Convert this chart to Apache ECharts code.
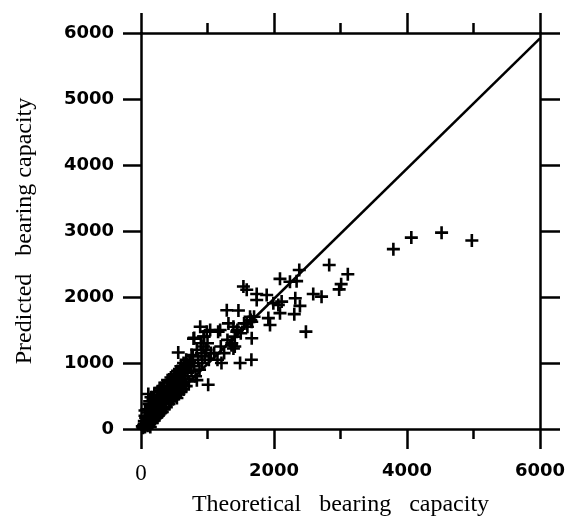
<!DOCTYPE html>
<html>
<head>
<meta charset="utf-8">
<script src="https://cdn.jsdelivr.net/npm/echarts@6/dist/echarts.min.js"></script>
<style>
  html, body { margin: 0; padding: 0; background: #fff; }
  #chart { width: 570px; height: 530px; }
</style>
</head>
<body>
<div id="chart"></div>
<script>
// 理论承载力 vs 预测承载力 (kN)
var xName = 'Theoretical   bearing   capacity';
var yName = 'Predicted   bearing capacity';

// 散点: [理论值, 预测值]
var lowPoints = [
    [40, 60], [60, 30], [80, 100], [100, 50], [90, 150], [120, 120], [130, 80], [150, 200],
    [160, 140], [170, 90], [180, 250], [190, 180], [200, 130], [210, 300], [220, 220], [230, 170],
    [240, 350], [250, 260], [260, 200], [270, 400], [280, 300], [290, 240], [300, 450], [310, 330],
    [320, 260], [60, 200], [110, 530], [150, 480], [200, 520], [50, 120], [70, 170], [30, 20],
    [140, 30], [100, 250], [190, 380], [250, 560], [280, 620], [330, 500], [340, 380], [350, 300],
    [360, 560], [370, 450], [380, 330], [400, 600], [410, 480], [420, 380], [430, 650], [440, 520],
    [450, 420], [460, 700], [470, 560], [480, 450], [500, 620], [510, 500], [520, 680], [530, 580],
    [540, 470], [550, 750], [560, 640], [570, 530], [590, 700], [600, 560], [620, 800], [630, 680],
    [640, 600], [650, 900], [660, 760], [680, 650], [700, 850], [710, 950], [720, 720], [560, 1160],
    [20, 40], [50, 80], [70, 60], [110, 90], [130, 170], [170, 210], [200, 260], [230, 290],
    [260, 330], [290, 370], [320, 420], [350, 470], [380, 520], [410, 560], [440, 600], [470, 640],
    [500, 690], [530, 730], [560, 780], [590, 820], [620, 870], [660, 920], [690, 980], [730, 1030],
    [160, 320], [220, 400], [270, 480], [300, 580], [390, 620], [420, 720], [480, 760], [520, 820],
    [600, 950], [640, 1000], [680, 1050], [760, 1120], [90, 300], [130, 420], [330, 650], [150, 350],
    [60, 280], [120, 380], [180, 450], [240, 500], [300, 620], [350, 650], [400, 740], [450, 780],
    [500, 830], [550, 880], [610, 920], [670, 990]
];
var midPoints = [
    [740, 1000], [760, 880], [780, 1100], [800, 950], [820, 800], [840, 1200], [860, 1050], [880, 900],
    [900, 1300], [910, 1150], [920, 1000], [940, 1250], [950, 1400], [960, 1100], [980, 1200], [1000, 1300],
    [1020, 1050], [1050, 1150], [1010, 670], [840, 740], [800, 1380], [890, 1550], [940, 1400], [1040, 1500],
    [1190, 1500], [1210, 1000], [1490, 1000], [1660, 1050], [1360, 1270], [1410, 1400], [1200, 1250], [1300, 1350],
    [1450, 1500], [1550, 1600], [1650, 1650], [1700, 1700], [1600, 1550], [1500, 1450], [1250, 1150], [1100, 1150],
    [1150, 1050], [790, 1370], [990, 1475], [1160, 1475], [1390, 1220], [1410, 1250]
];
var highPoints = [
    [1540, 2160], [1590, 2110], [1740, 2045], [1890, 2030], [1740, 1955], [2090, 2275], [2240, 2230], [2340, 2240],
    [2380, 2410], [2320, 1980], [2390, 1865], [2305, 1740], [2115, 1930], [2065, 1880], [2090, 1755], [1990, 1905],
    [1915, 1680], [1940, 1575], [1290, 1800], [1465, 1795], [1640, 1700], [1665, 1625], [1590, 1600], [1390, 1550],
    [1315, 1600], [1440, 1475], [1665, 1375], [1365, 1300], [2480, 1475], [2590, 2045], [2715, 2005], [2830, 2485],
    [3110, 2345], [3010, 2195], [2980, 2115], [3795, 2725], [4065, 2900], [4520, 2975], [4975, 2855]
];
var scatterData = lowPoints.concat(midPoints, highPoints);

// 1:1 参考线
var refLine = [[0, 0], [6000, 5920]];

var xTicks = [0, 2000, 4000, 6000];

var plusSymbol = 'path://M4,0 H6 V4 H10 V6 H6 V10 H4 V6 H0 V4 H4 Z';

var myChart = echarts.init(document.getElementById('chart'));

var axisLine = { show: true, onZero: false, lineStyle: { color: '#000', width: 2.5 } };
var boldNum = { fontFamily: 'DejaVu Sans', fontWeight: 'bold', fontSize: 18, color: '#000' };

var option = {
    animation: false,
    backgroundColor: '#fff',
    grid: { left: 141, right: 30, top: 33, bottom: 101 },
    xAxis: [{
        type: 'value',
        position: 'bottom',
        min: 0, max: 6000, interval: 2000,
        name: xName,
        nameLocation: 'middle',
        nameGap: 64,
        nameTextStyle: { fontFamily: 'Liberation Serif', fontSize: 24, color: '#000' },
        axisLine: axisLine,
        axisTick: { show: true, inside: false, length: 20, lineStyle: { color: '#000', width: 2.5 } },
        minorTick: { show: true, splitNumber: 2, length: 10, lineStyle: { color: '#000', width: 2.5 } },
        splitLine: { show: false },
        axisLabel: {
            margin: 33,
            showMaxLabel: true,
            formatter: function (v) {
                return xTicks.indexOf(v) === 0 ? '{s|0}' : '{b|' + v + '}';
            },
            rich: {
                s: { fontFamily: 'Liberation Serif', fontSize: 23, color: '#000' },
                b: boldNum
            }
        }
    }, {
        type: 'value',
        position: 'top',
        min: 0, max: 6000, interval: 2000,
        axisLine: axisLine,
        axisTick: { show: true, inside: false, length: 20, lineStyle: { color: '#000', width: 2.5 } },
        minorTick: { show: true, splitNumber: 2, length: 10, lineStyle: { color: '#000', width: 2.5 } },
        splitLine: { show: false },
        axisLabel: { show: false }
    }],
    yAxis: [{
        type: 'value',
        position: 'left',
        min: 0, max: 6000, interval: 1000,
        name: yName,
        nameLocation: 'middle',
        nameGap: 104,
        nameTextStyle: { fontFamily: 'Liberation Serif', fontSize: 24, color: '#000' },
        axisLine: axisLine,
        axisTick: { show: true, inside: false, length: 18, lineStyle: { color: '#000', width: 2.5 } },
        splitLine: { show: false },
        axisLabel: {
            margin: 27,
            showMaxLabel: true,
            formatter: function (v) { return String(v); },
            fontFamily: 'DejaVu Sans', fontWeight: 'bold', fontSize: 18, color: '#000'
        }
    }, {
        type: 'value',
        position: 'right',
        min: 0, max: 6000, interval: 1000,
        axisLine: axisLine,
        axisTick: { show: true, inside: false, length: 20, lineStyle: { color: '#000', width: 2.5 } },
        splitLine: { show: false },
        axisLabel: { show: false }
    }],
    series: [{
        type: 'line',
        data: refLine,
        symbol: 'none',
        lineStyle: { color: '#000', width: 2.5 },
        silent: true
    }, {
        type: 'scatter',
        data: scatterData,
        symbol: plusSymbol,
        symbolSize: 13,
        itemStyle: { color: '#000', opacity: 1 }
    }]
};

myChart.setOption(option);
window.onresize = myChart.resize;
</script>
</body>
</html>
